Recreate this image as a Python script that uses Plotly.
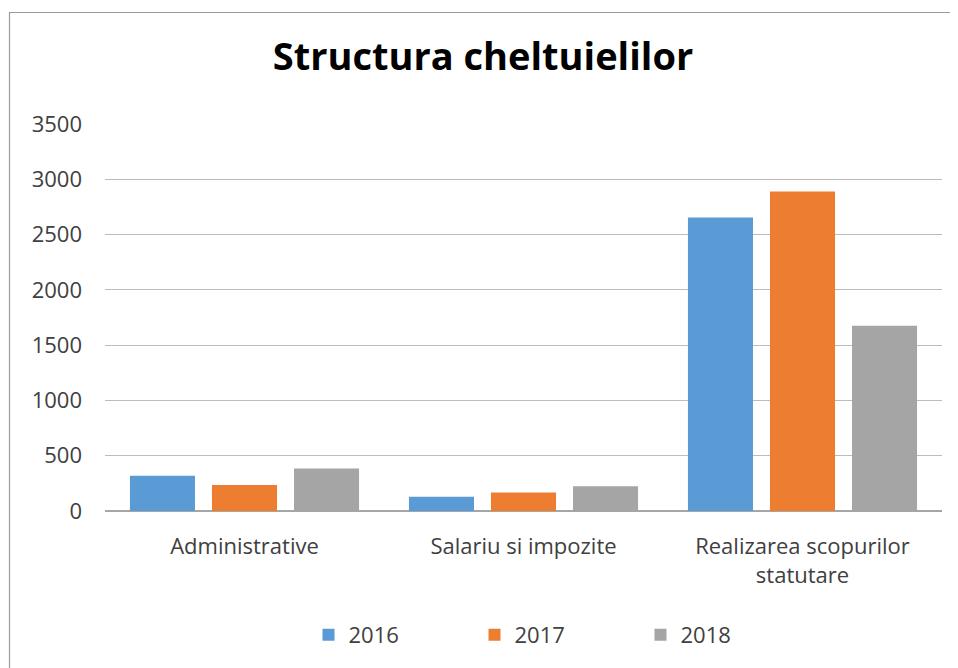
import plotly.graph_objects as go

categories = ["Administrative", "Salariu si impozite", "Realizarea scopurilor<br>statutare"]
years = ["2016", "2017", "2018"]
values_2016 = [318, 130, 2654]
values_2017 = [236, 167, 2889]
values_2018 = [385, 224, 1675]
colors = ["#5B9BD5", "#ED7D31", "#A5A5A5"]
tick_vals = [0, 500, 1000, 1500, 2000, 2500, 3000, 3500]

# page has an 8px body margin; figure is sized so it fits the 958x668 window
W, H = 950, 660
L, R, T, B = 97, 16, 116, 157
pw, ph = W - L - R, H - T - B


def px(page_x):
    return (page_x - 8 - L) / pw


def py(page_y):
    return (T + ph + 8 - page_y) / ph


fig = go.Figure()
for name, vals, c in zip(years, [values_2016, values_2017, values_2018], colors):
    fig.add_trace(go.Bar(name=name, x=categories, y=vals,
                         marker=dict(color=c, line=dict(width=0))))

fig.update_layout(
    width=W, height=H,
    margin=dict(l=L, r=R, t=T, b=B),
    paper_bgcolor="white", plot_bgcolor="white",
    barmode="group", bargap=0.118, bargroupgap=0.207,
    font=dict(family="Open Sans, sans-serif", color="#404040"),
    title=dict(text="<b>Structura cheltuielilor</b>", x=0.5, xanchor="center",
               y=1 - (57 - 8) / H, yanchor="middle",
               font=dict(size=38, color="#000000", family="Open Sans, sans-serif")),
    xaxis=dict(showgrid=False, showline=False, ticks="",
               tickfont=dict(size=22, color="#404040"), ticklabelstandoff=20),
    yaxis=dict(range=[0, 3500], tickvals=tick_vals, showgrid=True,
               gridcolor="#BCBCBC", gridwidth=1,
               zeroline=True, zerolinecolor="#A6A6A6", zerolinewidth=1.5,
               showline=False, tickfont=dict(size=22, color="#404040"),
               ticklabelstandoff=22),
    legend=dict(orientation="h", x=px(308.5), xanchor="left", y=py(635), yanchor="middle",
                font=dict(size=22, color="#404040"), entrywidth=121,
                entrywidthmode="pixels", itemsizing="constant"),
    shapes=[dict(type="rect", xref="paper", yref="paper",
                 x0=px(9.5), x1=px(975), y0=py(12.5), y1=py(700),
                 line=dict(color="#9A9A9A", width=1.2), layer="below")],
)
fig.write_html("out.html")
